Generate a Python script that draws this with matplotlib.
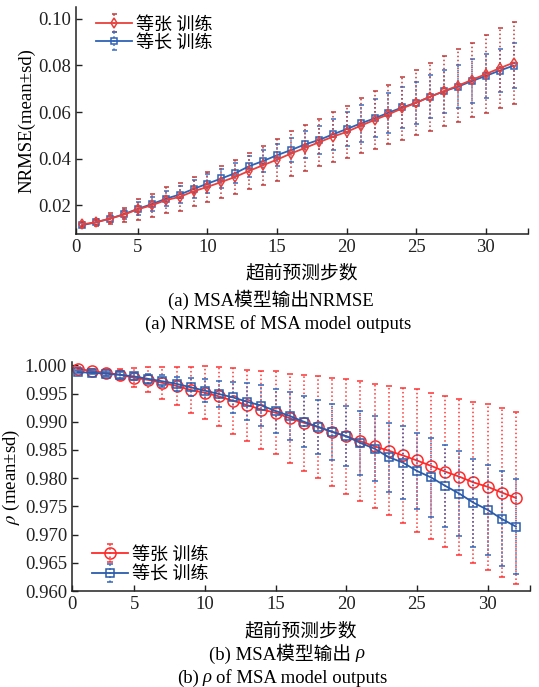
import matplotlib
matplotlib.use("Agg")
import matplotlib.pyplot as plt
import numpy as np

plt.rcParams["font.family"] = ["Liberation Serif", "Noto Sans CJK SC"]
plt.rcParams["mathtext.fontset"] = "stix"
plt.rcParams["axes.unicode_minus"] = False

steps = np.arange(1, 33)

# (a) NRMSE, mean and sd
nrmse_iso = [0.0118, 0.0128, 0.0143, 0.0160, 0.0183, 0.0200, 0.0222, 0.0236,
             0.0260, 0.0279, 0.0300, 0.0322, 0.0348, 0.0372, 0.0396, 0.0422,
             0.0446, 0.0470, 0.0494, 0.0515, 0.0541, 0.0566, 0.0590, 0.0616,
             0.0640, 0.0666, 0.0690, 0.0713, 0.0738, 0.0763, 0.0788, 0.0812]
nrmse_iso_sd = [0.0010, 0.0015, 0.0024, 0.0030, 0.0045, 0.0050, 0.0055, 0.0060,
                0.0062, 0.0065, 0.0068, 0.0072, 0.0078, 0.0083, 0.0090, 0.0095,
                0.0098, 0.0102, 0.0107, 0.0112, 0.0118, 0.0124, 0.0128, 0.0134,
                0.0140, 0.0146, 0.0150, 0.0156, 0.0160, 0.0166, 0.0171, 0.0176]
nrmse_len = [0.0115, 0.0127, 0.0143, 0.0162, 0.0185, 0.0205, 0.0228, 0.0246,
             0.0270, 0.0293, 0.0315, 0.0338, 0.0368, 0.0390, 0.0415, 0.0437,
             0.0461, 0.0480, 0.0504, 0.0527, 0.0551, 0.0573, 0.0597, 0.0620,
             0.0640, 0.0666, 0.0689, 0.0709, 0.0733, 0.0755, 0.0778, 0.0799]
nrmse_len_sd = [0.0008, 0.0010, 0.0015, 0.0020, 0.0028, 0.0030, 0.0033, 0.0035,
                0.0037, 0.0040, 0.0042, 0.0044, 0.0045, 0.0046, 0.0047, 0.0052,
                0.0056, 0.0060, 0.0065, 0.0074, 0.0078, 0.0082, 0.0085, 0.0088,
                0.0090, 0.0091, 0.0092, 0.0092, 0.0093, 0.0094, 0.0092, 0.0095]

# (b) rho, mean and sd
rho_iso = [0.99941, 0.99898, 0.99869, 0.99833, 0.99780, 0.99743, 0.99690, 0.99636,
           0.99564, 0.99516, 0.99450, 0.99372, 0.99295, 0.99216, 0.99163, 0.99062,
           0.98983, 0.98906, 0.98822, 0.98744, 0.98655, 0.98565, 0.98488, 0.98404,
           0.98314, 0.98219, 0.98117, 0.98027, 0.97925, 0.97848, 0.97746, 0.97650]
rho_iso_sd = [0.0003, 0.0004, 0.0006, 0.0010, 0.0017, 0.0022, 0.0028, 0.0033,
              0.0040, 0.0047, 0.0052, 0.0058, 0.0063, 0.0069, 0.0073, 0.0079,
              0.0085, 0.0090, 0.0096, 0.0102, 0.0106, 0.0110, 0.0114, 0.0120,
              0.0126, 0.0130, 0.0134, 0.0138, 0.0142, 0.0147, 0.0150, 0.0153]
rho_len = [0.99880, 0.99870, 0.99851, 0.99833, 0.99803, 0.99761, 0.99718, 0.99672,
           0.99611, 0.99552, 0.99492, 0.99431, 0.99354, 0.99288, 0.99193, 0.99103,
           0.99001, 0.98912, 0.98822, 0.98744, 0.98625, 0.98524, 0.98373, 0.98278,
           0.98129, 0.98014, 0.97865, 0.97727, 0.97566, 0.97440, 0.97279, 0.97143]
rho_len_sd = [0.0002, 0.0003, 0.0004, 0.0005, 0.0007, 0.0009, 0.0011, 0.0013,
              0.0016, 0.0020, 0.0023, 0.0027, 0.0033, 0.0036, 0.0039, 0.0042,
              0.0045, 0.0048, 0.0050, 0.0053, 0.0056, 0.0058, 0.0061, 0.0064,
              0.0067, 0.0070, 0.0073, 0.0075, 0.0078, 0.0080, 0.0084, 0.0085]

labels = ["等张 训练", "等长 训练"]
xticks = [5, 10, 15, 20, 25, 30]

FS = 13.5
W, H = 539, 687


def draw_series(ax, y, sd, color, barcolor, marker, ms, capsize, z, label):
    eb = ax.errorbar(steps, y, yerr=sd, color=color, ecolor=barcolor,
                     marker=marker, markersize=ms, markerfacecolor="none",
                     markeredgecolor=color, markeredgewidth=1.1,
                     linewidth=1.3, elinewidth=1.1, capsize=capsize,
                     capthick=1.1, zorder=z, label=label)
    eb[2][0].set_linestyle(":")
    return eb


def style_axes(ax, xl):
    ax.spines["top"].set_visible(False)
    ax.spines["right"].set_visible(False)
    for s in ("left", "bottom"):
        ax.spines[s].set_linewidth(1.1)
        ax.spines[s].set_color("#222222")
    ax.tick_params(direction="in", length=4, width=1.0, labelsize=FS,
                   colors="#222222")
    ax.set_xlim(xl, 33)
    ax.set_xticks([xl] + xticks + [33])
    ax.set_xticklabels(["0"] + [str(t) for t in xticks] + [""])


def caption(fig, xc_px, yc_px, parts, gap=3):
    # parts: list of (text, italic); laid out left to right, centred on xc_px
    texts = [fig.text(0, 1 - yc_px / H, s, va="center", ha="left", fontsize=FS,
                      fontstyle="italic" if it else "normal") for s, it in parts]
    fig.canvas.draw()
    r = fig.canvas.get_renderer()
    widths = [t.get_window_extent(r).width for t in texts]
    total = sum(widths) + gap * (len(texts) - 1)
    x = xc_px - total / 2
    for t, w in zip(texts, widths):
        t.set_x(x / W)
        x += w + gap


fig = plt.figure(figsize=(W / 100, H / 100), dpi=100)

# (a)
ax1 = fig.add_axes([0.141, 0.6587, 0.838, 0.331])
draw_series(ax1, nrmse_iso, nrmse_iso_sd, "#e8403c", "#c0393a", "d", 5.5, 1.8, 3, labels[0])
draw_series(ax1, nrmse_len, nrmse_len_sd, "#2f62b5", "#3a6fc4", "s", 4, 1.8, 2, labels[1])
style_axes(ax1, 0.56)
ax1.set_ylim(0.0075, 0.105)
ax1.set_yticks([0.02, 0.04, 0.06, 0.08, 0.10])
ax1.set_yticklabels(["0.02", "0.04", "0.06", "0.08", "0.10"])
ax1.set_ylabel("NRMSE(mean±sd)", fontsize=FS, labelpad=2)
ax1.set_xlabel("超前预测步数", fontsize=FS, labelpad=6)
ax1.legend(loc="upper left", bbox_to_anchor=(0.02, 1.007), frameon=False,
           fontsize=13, handlelength=2.0, handletextpad=0.2, labelspacing=0.05,
           borderaxespad=0.2)

# (b)
ax2 = fig.add_axes([0.1336, 0.1397, 0.8497, 0.3334])
draw_series(ax2, rho_iso, rho_iso_sd, "#ff2a2a", "#ff3333", "o", 8, 2.2, 2, labels[0])
draw_series(ax2, rho_len, rho_len_sd, "#2a5cab", "#3366bb", "s", 5.5, 2.2, 3, labels[1])
style_axes(ax2, 0.6)
ax2.set_ylim(0.960, 1.0006)
ax2.set_yticks(np.arange(0.960, 1.0001, 0.005))
ax2.set_yticklabels([f"{v:.3f}" for v in np.arange(0.960, 1.0001, 0.005)])
ax2.set_ylabel(r"$\rho$ (mean±sd)", fontsize=FS, labelpad=2)
ax2.set_xlabel("超前预测步数", fontsize=FS, labelpad=7)
ax2.legend(loc="lower left", bbox_to_anchor=(0.02, -0.012), frameon=False,
           fontsize=13, handlelength=2.0, handletextpad=0.2, labelspacing=0.12,
           borderaxespad=0.2)

# captions
caption(fig, 271, 300, [("(a) MSA模型输出NRMSE", False)])
caption(fig, 278, 324, [("(a) NRMSE of MSA model outputs", False)])
caption(fig, 287, 654, [("(b) MSA模型输出", False), ("ρ", True)], gap=4)
caption(fig, 282, 678, [("(b)", False), ("ρ", True), ("of MSA model outputs", False)], gap=4)

fig.savefig("out.png", dpi=100)
